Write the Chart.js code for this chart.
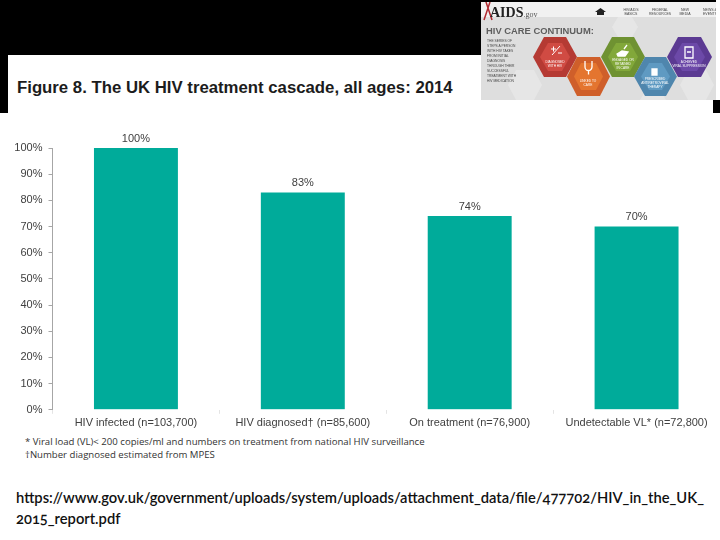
<!DOCTYPE html>
<html>
<head>
<meta charset="utf-8">
<title>UK HIV treatment cascade</title>
<script src="https://cdn.jsdelivr.net/npm/chart.js@4"></script>
<style>
  html, body { margin: 0; padding: 0; background: #fff; }
  #page { position: relative; width: 720px; height: 540px; overflow: hidden; background: #fff; }
  .abs { position: absolute; }
  .black { position: absolute; background: #000; }
  #title { left: 17px; top: 78px; font: bold 16.75px "Liberation Sans", sans-serif; color: #1c1c1c; white-space: nowrap; }
  .note { left: 25px; font: 9.6px "Open Sans", sans-serif; color: #333; white-space: nowrap; }
  #url { left: 16px; top: 487px; width: 704px; font: 600 14.73px/20.5px Lato, sans-serif; color: #111; white-space: nowrap; font-feature-settings: "onum"; }
  #chart { position: absolute; left: 0; top: 113px; }
  #inset { position: absolute; left: 481px; top: 2px; filter: blur(0.35px); }
</style>
</head>
<body>
<div id="page">
  <div class="black" style="left:0;top:0;width:716px;height:55px"></div>
  <div class="black" style="left:0;top:55px;width:8px;height:58px"></div>
  <div class="black" style="left:713px;top:100px;width:7px;height:13px"></div>
  <div id="title" class="abs">Figure 8. The UK HIV treatment cascade, all ages: 2014</div>

  <svg id="inset" width="235" height="98" viewBox="481 2 235 98" font-family="Liberation Sans, sans-serif">
    <rect x="481" y="2" width="235" height="98" fill="#dedede"/>
    <rect x="481" y="2" width="235" height="15" fill="#f1f1f1"/>
    <g fill="#e6e6e6">
      <polygon points="508,85 516,70 534,70 542,85 534,100 516,100"/>
      <polygon points="612,27 618,17 632,17 638,27 632,37 618,37"/>
      <polygon points="640,100 646,90 660,90 666,100"/>
      <polygon points="680,85 688,70 706,70 714,85 706,100 688,100"/>
    </g>
    <path d="M490 2 L484 20 M486 2 L492 20" stroke="#b02a30" stroke-width="1.5" fill="none"/>
    <text x="490" y="17" font-family="Liberation Serif, serif" font-weight="bold" font-size="14" fill="#222">AIDS<tspan font-size="8" font-weight="normal" fill="#555">.gov</tspan></text>
    <path d="M597 15 L597 12 L595 12 L600.500 8 L606 12 L604 12 L604 15 Z" fill="#222"/>
    <g font-size="3.500" fill="#444" text-anchor="middle">
      <text x="631" y="11">HIV/AIDS</text><text x="631" y="15">BASICS</text>
      <text x="660" y="11">FEDERAL</text><text x="660" y="15">RESOURCES</text>
      <text x="685" y="11">NEW</text><text x="685" y="15">MEDIA</text>
      <text x="710" y="11">NEWS &amp;</text><text x="710" y="15">EVENTS</text>
    </g>
    <text x="486" y="34" font-size="9.400" font-weight="bold" fill="#5e5e5e">HIV CARE CONTINUUM:</text>
    <g font-size="3.300" fill="#444">
      <text x="487" y="42">THE SERIES OF</text><text x="487" y="47">STEPS A PERSON</text>
      <text x="487" y="52">WITH HIV TAKES</text><text x="487" y="57">FROM INITIAL</text>
      <text x="487" y="62">DIAGNOSIS</text><text x="487" y="67">THROUGH THEIR</text>
      <text x="487" y="72">SUCCESSFUL</text><text x="487" y="77">TREATMENT WITH</text>
      <text x="487" y="82">HIV MEDICATION</text>
    </g>
    <g stroke="none">
      <polygon points="533,57 544,37 566,37 577,57 566,77 544,77" fill="#b53a33"/>
      <polygon points="540,57 548,43 562,43 570,57 562,71 548,71" fill="#d04b43"/>
      <polygon points="567,76.500 577,57 600,57 610,76.500 600,96 577,96" fill="#cf5f2a"/>
      <polygon points="574,76.500 581,63 596,63 603,76.500 596,90 581,90" fill="#e4752f"/>
      <polygon points="601,57 612,37 634,37 645,57 634,77 612,77" fill="#6f9232"/>
      <polygon points="608,57 616,43 630,43 638,57 630,71 616,71" fill="#82a83a"/>
      <polygon points="634,76.500 645,57 666,57 677,76.500 666,96 645,96" fill="#4f86ad"/>
      <polygon points="641,76.500 649,63 662,63 670,76.500 662,90 649,90" fill="#5f9ac2"/>
      <polygon points="667,57 678,37 701,37 712,57 701,77 678,77" fill="#5b3a92"/>
      <polygon points="674,57 682,43 697,43 705,57 697,71 682,71" fill="#6c49a8"/>
    </g>
    <g fill="none" stroke="#fff" stroke-width="1.300">
      <path d="M551 49 h5 M553.500 46.500 v5 M558 53 h4 M560 46 L552 55" stroke-width="1"/>
      <path d="M585 61 v6 a3.500 3.500 0 0 0 7 0 v-6 M588.500 70.500 v4"/>
      <path d="M617 54 l5 -3 l6 1 l-3 4 l-7 0 z M624 49 l3 -4" fill="#fff"/>
      <path d="M652 69 h5 v6 h-5 z" fill="#fff"/>
      <path d="M685 47 h8 v11 h-8 z M687 52 h4"/>
    </g>
    <g font-size="3.200" fill="#fff" text-anchor="middle">
      <text x="555" y="63">DIAGNOSED</text><text x="555" y="67">WITH HIV</text>
      <text x="588" y="82">LINKED TO</text><text x="588" y="86">CARE</text>
      <text x="623" y="61">ENGAGED OR</text><text x="623" y="65">RETAINED</text><text x="623" y="69">IN CARE</text>
      <text x="655" y="80">PRESCRIBED</text><text x="655" y="84">ANTIRETROVIRAL</text><text x="655" y="88">THERAPY</text>
      <text x="689" y="63">ACHIEVED</text><text x="689" y="67">VIRAL SUPPRESSION</text>
    </g>
  </svg>

  <canvas id="chart" width="720" height="320"></canvas>
  <div class="abs note" style="top:435px">* Viral load (VL)&lt; 200 copies/ml and numbers on treatment from national HIV surveillance</div>
  <div class="abs note" style="top:448px">†Number diagnosed estimated from MPES</div>
  <div id="url" class="abs">https://www.gov.uk/government/uploads/system/uploads/attachment_data/file/477702/HIV_in_the_UK_<br>2015_report.pdf</div>
</div>

<script>
const categories = ['HIV infected (n=103,700)', 'HIV diagnosed† (n=85,600)', 'On treatment (n=76,900)', 'Undetectable VL* (n=72,800)'];
const cascadeValues = [100, 83, 74, 70];
const valueLabels = ['100%', '83%', '74%', '70%'];

// labels above the bars
const barLabels = {
  id: 'barLabels',
  afterDatasetsDraw(chart) {
    const c = chart.ctx;
    c.save();
    c.font = '11px "Liberation Sans", sans-serif';
    c.fillStyle = '#404040';
    c.textAlign = 'center';
    c.textBaseline = 'middle';
    chart.getDatasetMeta(0).data.forEach((bar, i) => {
      c.fillText(valueLabels[i], bar.x, bar.y - 9.5);
    });
    c.restore();
  }
};

new Chart(document.getElementById('chart'), {
  type: 'bar',
  data: {
    labels: categories,
    datasets: [{
      data: cascadeValues,
      backgroundColor: '#00AB9A',
      barPercentage: 0.503,
      categoryPercentage: 1
    }]
  },
  plugins: [barLabels],
  options: {
    responsive: false,
    animation: false,
    layout: { padding: { top: 35, right: 0, bottom: 0, left: 0 } },
    plugins: { legend: { display: false }, tooltip: { enabled: false } },
    scales: {
      x: {
        grid: { drawOnChartArea: false, color: '#e4e4e4', tickLength: 4 },
        border: { display: false },
        ticks: {
          color: '#404040',
          font: { family: 'Liberation Sans', size: 11 },
          maxRotation: 0,
          autoSkip: false,
          padding: 3
        }
      },
      y: {
        min: 0,
        max: 100,
        afterFit(axis) { axis.width = 52.5; },
        grid: { drawOnChartArea: false, color: '#a6a6a6', tickLength: 4 },
        border: { color: '#a6a6a6' },
        ticks: {
          stepSize: 10,
          color: '#404040',
          font: { family: 'Liberation Sans', size: 11 },
          padding: 6,
          callback: v => v + '%'
        }
      }
    }
  }
});
</script>
</body>
</html>
